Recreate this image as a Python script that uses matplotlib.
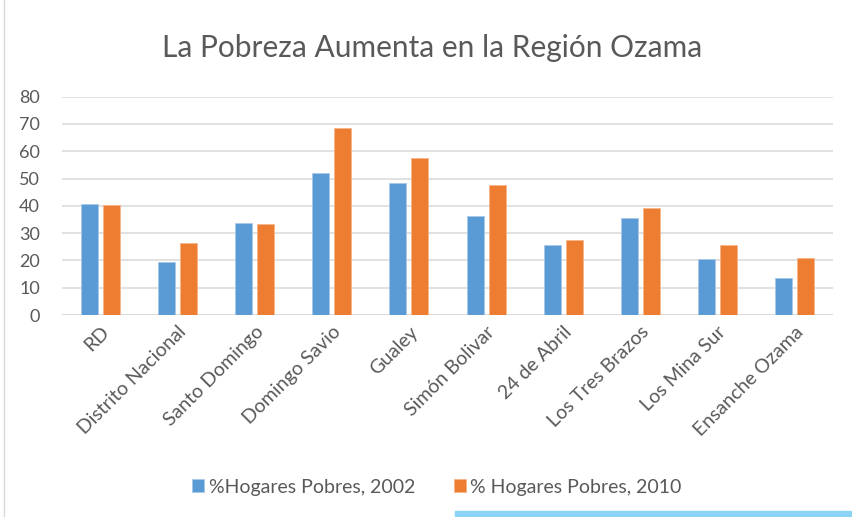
import matplotlib.pyplot as plt
import numpy as np

plt.rcParams['font.family'] = ['Lato', 'DejaVu Sans']

# data
categories = ['RD', 'Distrito Nacional', 'Santo Domingo', 'Domingo Savio', 'Gualey',
              'Simón Bolivar', '24 de Abril', 'Los Tres Brazos', 'Los Mina Sur', 'Ensanche Ozama']
hogares_2002 = [40.7, 19.5, 33.8, 51.9, 48.2, 36.4, 25.8, 35.4, 20.6, 13.7]
hogares_2010 = [40.2, 26.5, 33.3, 68.4, 57.5, 47.7, 27.4, 39.2, 25.6, 21.0]
label_2002 = '%Hogares Pobres, 2002'
label_2010 = '% Hogares Pobres, 2010'
y_ticks = [0, 10, 20, 30, 40, 50, 60, 70, 80]

BLUE = '#5B9BD5'
ORANGE = '#ED7D31'
TXT = '#595959'

fig = plt.figure(figsize=(8.52, 5.17), dpi=100)
ax = fig.add_axes([62 / 852, 1 - 315 / 517, (833 - 62) / 852, (315 - 96.7) / 517])

x = np.arange(len(categories))
w = 0.22
off = 0.143
ax.bar(x - off, hogares_2002, w, color=BLUE, edgecolor='#A9C8E8', linewidth=0.6,
       label=label_2002, zorder=3)
ax.bar(x + off, hogares_2010, w, color=ORANGE, edgecolor='#F5B48C', linewidth=0.6,
       label=label_2010, zorder=3)

ax.set_xlim(-0.5, len(categories) - 0.5)
ax.set_ylim(0, 80)
ax.set_yticks(y_ticks)
ax.yaxis.grid(True, color='#D9D9D9', linewidth=1.1, zorder=0)
for s in ax.spines.values():
    s.set_visible(False)
ax.tick_params(axis='both', length=0, colors=TXT, labelsize=13)
ax.tick_params(axis='y', pad=16)
ax.tick_params(axis='x', pad=6, labelsize=14)
ax.set_xticks(x)
ax.set_xticklabels(categories, rotation=45, ha='right', rotation_mode='anchor')
ax.axhline(0, color='#D9D9D9', linewidth=1.1, zorder=2)

fig.text(432 / 852, 1 - 48 / 517, 'La Pobreza Aumenta en la Región Ozama',
         ha='center', va='center', fontsize=21.5, color=TXT)

fig.legend(loc='center', bbox_to_anchor=(437 / 852, 1 - 487 / 517), ncol=2,
           frameon=False, fontsize=14, handlelength=0.6, handleheight=0.6,
           handletextpad=0.25, columnspacing=2.0, labelcolor=TXT)

# chart frame remnants
fig.add_artist(plt.Line2D([4 / 852, 4 / 852], [0, 1], color='#D9D9D9', linewidth=1))
fig.add_artist(plt.Rectangle((455 / 852, 0), 397 / 852, 6 / 517, color='#8DD3F5',
                             transform=fig.transFigure))

fig.savefig('out.png', dpi=100)
